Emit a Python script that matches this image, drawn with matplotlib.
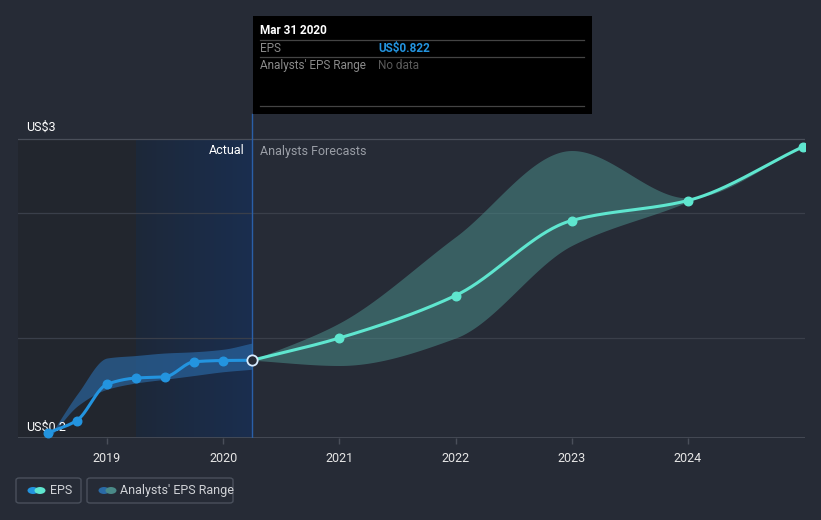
import matplotlib
matplotlib.use("Agg")
import matplotlib.pyplot as plt
from matplotlib.patches import Rectangle, FancyBboxPatch, Circle
from matplotlib.colors import LinearSegmentedColormap
import numpy as np

plt.rcParams['font.family'] = ['Roboto', 'DejaVu Sans']

# actual EPS, quarterly
actual_x = [2018.49, 2018.74, 2019.0, 2019.25, 2019.5, 2019.75, 2020.0, 2020.25]
actual_eps = [0.24, 0.34, 0.63, 0.68, 0.69, 0.81, 0.82, 0.822]

# range band around the actuals
band_a_x = [2018.53, 2018.75, 2019.0, 2019.25, 2019.5, 2019.75, 2020.0, 2020.25]
band_a_low = [0.23, 0.46, 0.59, 0.64, 0.67, 0.70, 0.73, 0.75]
band_a_high = [0.25, 0.56, 0.84, 0.86, 0.88, 0.89, 0.91, 0.96]

# analyst forecasts
fc_x = [2020.25, 2021.0, 2022.0, 2023.0, 2024.0, 2024.99]
fc_eps = [0.822, 1.0, 1.34, 1.94, 2.10, 2.53]
fc_low = [0.822, 0.78, 1.0, 1.74, 2.09, 2.53]
fc_high = [0.822, 1.12, 1.81, 2.50, 2.12, 2.53]

year_ticks = [2019, 2020, 2021, 2022, 2023, 2024]
grid_vals = [1.0, 2.0]
y_top = 2.59
y_bottom = 0.2
split_x = 2020.25

BG = '#262b36'
ACT = '#2394df'
FC = '#5fe6cf'


def monotone(xs, ys, n=300):
    # monotone cubic (Fritsch-Carlson), same idea as d3 curveMonotoneX
    xs = np.asarray(xs, float)
    ys = np.asarray(ys, float)
    h = np.diff(xs)
    d = np.diff(ys) / h
    m = np.zeros_like(ys)
    m[0], m[-1] = d[0], d[-1]
    for i in range(1, len(xs) - 1):
        if d[i - 1] * d[i] <= 0:
            m[i] = 0
        else:
            w1 = 2 * h[i] + h[i - 1]
            w2 = h[i] + 2 * h[i - 1]
            m[i] = (w1 + w2) / (w1 / d[i - 1] + w2 / d[i])
    xx = np.linspace(xs[0], xs[-1], n)
    idx = np.clip(np.searchsorted(xs, xx) - 1, 0, len(xs) - 2)
    t = (xx - xs[idx]) / h[idx]
    h00 = 2 * t**3 - 3 * t**2 + 1
    h10 = t**3 - 2 * t**2 + t
    h01 = -2 * t**3 + 3 * t**2
    h11 = t**3 - t**2
    yy = h00 * ys[idx] + h10 * h[idx] * m[idx] + h01 * ys[idx + 1] + h11 * h[idx] * m[idx + 1]
    return xx, yy


fig = plt.figure(figsize=(8.21, 5.2), dpi=100, facecolor=BG)
W, H = 821, 520
ax = fig.add_axes([18 / W, 82 / H, 787 / W, 438 / H])
ax.set_facecolor(BG)
ax.set_xlim(2018.234, 2025.007)
ax.set_ylim(y_bottom, 2 + 213 / 125)
for s in ax.spines.values():
    s.set_visible(False)

# shaded history regions
ax.fill_between([ax.get_xlim()[0], 2019.25], y_bottom, y_top, color='#22262e', lw=0, zorder=0)
grad = np.linspace(0, 1, 256).reshape(1, -1)
cm = LinearSegmentedColormap.from_list('hist', ['#1d2839', '#1a2e4f'])
ax.imshow(grad, extent=[2019.25, split_x, y_bottom, y_top], aspect='auto', cmap=cm, zorder=0.5)

# grid
for g in grid_vals:
    ax.axhline(g, color='#3a3f4a', lw=0.9, zorder=1)
ax.axhline(y_top, color='#4a4f5a', lw=0.9, zorder=1)
ax.axhline(y_bottom, color='#4a4f5a', lw=1.2, zorder=1)

# divider
ax.plot([split_x, split_x], [y_bottom, 2 + (213 - 114) / 125], color='#2a5fa8', lw=1, zorder=2)

# bands
bx, blo = monotone(band_a_x, band_a_low)
_, bhi = monotone(band_a_x, band_a_high)
ax.fill_between(bx, blo, bhi, color='#2b6cab', alpha=0.62, lw=0, zorder=3)
fx, flo = monotone(fc_x, fc_low)
_, fhi = monotone(fc_x, fc_high)
ax.fill_between(fx, flo, fhi, color='#4a8a88', alpha=0.55, lw=0, zorder=3)

# lines
ax_, ay_ = monotone(actual_x, actual_eps)
ax.plot(ax_, ay_, color=ACT, lw=2.2, zorder=4)
ax.scatter(actual_x[:-1], actual_eps[:-1], s=38, color=ACT, zorder=5)
fxx, fyy = monotone(fc_x, fc_eps)
ax.plot(fxx, fyy, color=FC, lw=2.2, zorder=4)
ax.scatter(fc_x[1:], fc_eps[1:], s=38, color=FC, zorder=5)
ax.scatter([split_x], [actual_eps[-1]], s=55, facecolor=BG, edgecolor='#d8ecff', lw=1.3, zorder=6)

# x ticks
ax.set_xticks(year_ticks)
ax.set_xticklabels([str(y) for y in year_ticks])
ax.tick_params(axis='x', colors='#4a4f5a', labelcolor='#e6e6e6', length=4, width=1, labelsize=9, pad=6)
ax.set_yticks([])

# y labels
ax.text(2018.3, y_top + 0.04, 'US$3', color='#ffffff', fontsize=9, va='bottom', ha='left')
ax.text(2018.3, y_bottom + 0.03, 'US$0.2', color='#ffffff', fontsize=9, va='bottom', ha='left')

ax.text(split_x - 0.07, 2 + (213 - 151) / 125, 'Actual', color='#ffffff', fontsize=9, ha='right', va='center')
ax.text(split_x + 0.07, 2 + (213 - 151) / 125, 'Analysts Forecasts', color='#9a9ea6', fontsize=9, ha='left', va='center')


def fx_(px):
    return px / W


def fy_(py):
    return 1 - py / H


# tooltip
fig.add_artist(Rectangle((fx_(253), fy_(114)), 339 / W, 98 / H, transform=fig.transFigure,
                         facecolor='#000000', edgecolor='none', zorder=10))
for ly in [40, 57, 106]:
    fig.add_artist(plt.Line2D([fx_(260), fx_(584)], [fy_(ly), fy_(ly)], transform=fig.transFigure,
                              color='#444444', lw=0.9, zorder=11))
fig.text(fx_(260), fy_(31), 'Mar 31 2020', color='#ffffff', fontsize=8.5, fontweight='bold', va='center', zorder=12)
fig.text(fx_(260), fy_(48.5), 'EPS', color='#8a8a8a', fontsize=8.5, va='center', zorder=12)
fig.text(fx_(378), fy_(48.5), 'US$0.822', color='#2394df', fontsize=8.5, fontweight='bold', va='center', zorder=12)
fig.text(fx_(260), fy_(65.5), "Analysts' EPS Range", color='#8a8a8a', fontsize=8.5, va='center', zorder=12)
fig.text(fx_(378), fy_(65.5), 'No data', color='#5a5a5a', fontsize=8.5, va='center', zorder=12)

# legend
for (x0, w, label, c1, c2, tx) in [(16, 65, 'EPS', ACT, FC, 50),
                                   (87, 146, "Analysts' EPS Range", '#2a6aa6', '#4a8a88', 120)]:
    fig.add_artist(FancyBboxPatch((fx_(x0), fy_(503)), w / W, 25 / H,
                                  boxstyle='round,pad=0,rounding_size=0.004', transform=fig.transFigure,
                                  facecolor='none', edgecolor='#4a505c', lw=1))
    cx = x0 + 17
    fig.add_artist(Circle((fx_(cx), fy_(490.5)), 5.5 / W, transform=fig.transFigure,
                          facecolor=c1, edgecolor='none'))
    fig.add_artist(Circle((fx_(cx + 7), fy_(490.5)), 5.5 / W, transform=fig.transFigure,
                          facecolor=c2, edgecolor='none'))
    fig.text(fx_(tx), fy_(490.5), label, color='#d0d2d6', fontsize=9, va='center')

fig.savefig('out.png', dpi=100, facecolor=BG)
